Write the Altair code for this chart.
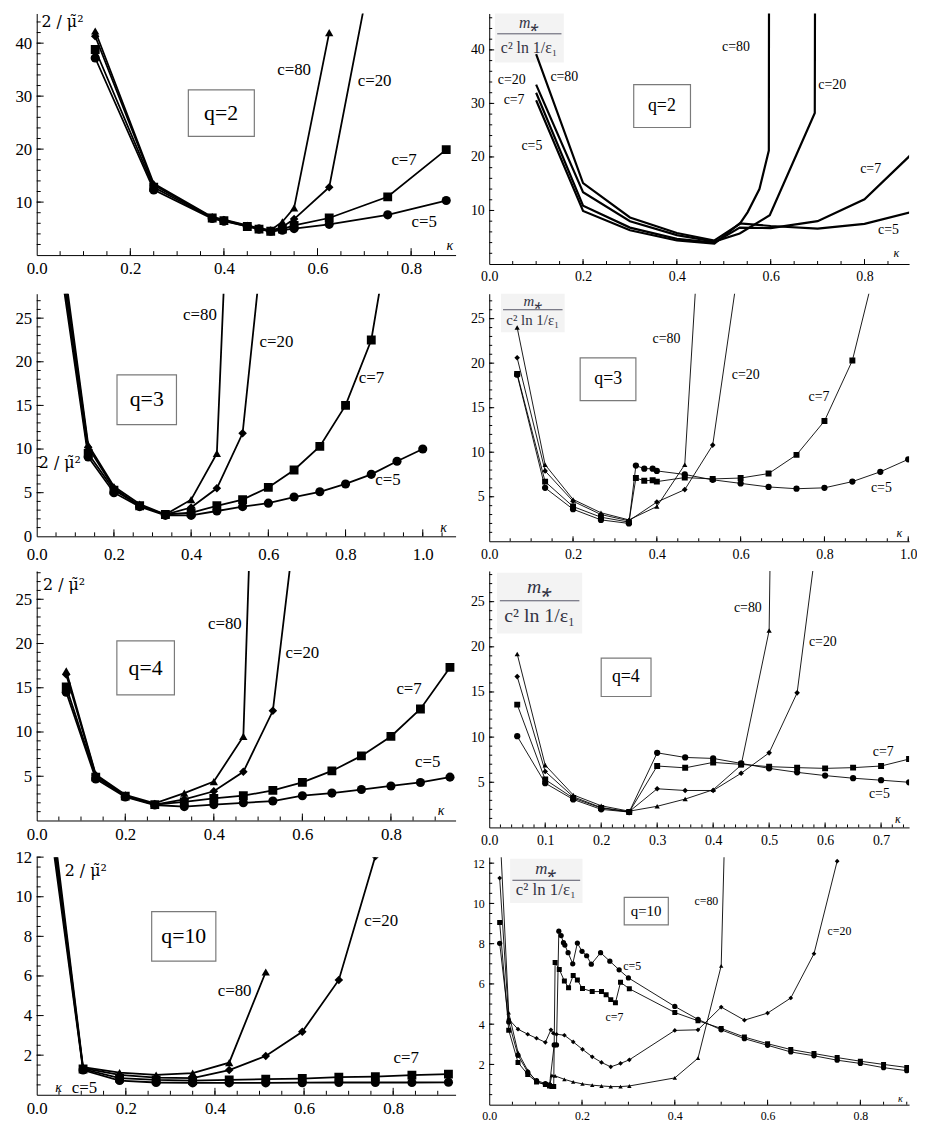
import altair as alt
import pandas as pd

FONT = "Liberation Serif"
C_NAMES = ["5", "7", "20", "80"]
SHAPES = ["circle", "square", "diamond", "triangle-up"]

# ---------------- q=2, left panel : 2/mu~^2 ----------------
q2L_kappa = [0.125, 0.25, 0.375, 0.4, 0.45, 0.475, 0.5, 0.525, 0.55, 0.625, 0.75, 0.875]
q2L_c5 = [37.2, 12.3, 6.9, 6.4, 5.4, 4.9, 4.5, 4.7, 5.0, 5.8, 7.6, 10.3]
q2L_c7 = [38.8, 12.8, 7.0, 6.5, 5.4, 4.9, 4.5, 4.9, 5.6, 7.0, 11.0, 19.9]
q2L_c20 = [41.3, 13.2, 7.1, 6.6, 5.5, 5.0, 4.6, 5.3, 6.8, 12.8, 70.0]
q2L_c80 = [42.3, 13.5, 7.2, 6.7, 5.6, 5.1, 4.7, 6.3, 8.9, 42.0]

# ---------------- q=2, right panel : m*/(c^2 ln 1/eps) ----------------
q2R_kappa_57 = [0.1, 0.2, 0.3, 0.4, 0.48, 0.534, 0.6, 0.7, 0.8, 0.9]
q2R_c5 = [30.6, 9.9, 6.3, 4.4, 3.8, 7.6, 7.1, 6.6, 7.5, 9.7]
q2R_c7 = [32.0, 10.9, 6.8, 4.7, 4.0, 6.8, 6.7, 8.0, 12.1, 20.5]
q2R_kappa_20 = [0.1, 0.2, 0.3, 0.4, 0.48, 0.534, 0.598, 0.694, 0.7]
q2R_c20 = [33.5, 13.4, 8.0, 5.4, 4.2, 5.7, 9.1, 28.2, 300.0]
q2R_kappa_80 = [0.1, 0.2, 0.3, 0.4, 0.48, 0.534, 0.551, 0.576, 0.596, 0.6]
q2R_c80 = [39.2, 15.1, 8.7, 5.8, 4.4, 7.5, 9.7, 14.0, 21.2, 300.0]

# ---------------- q=3, left panel ----------------
q3L_kappa = [1/15, 2/15, 3/15, 4/15, 5/15, 6/15, 7/15, 8/15, 9/15, 10/15, 11/15, 12/15, 13/15, 14/15, 1.0]
q3L_c5 = [29.5, 9.1, 5.0, 3.4, 2.4, 2.4, 2.9, 3.4, 3.8, 4.5, 5.1, 6.0, 7.1, 8.6, 10.0]
q3L_c7 = [30.5, 9.5, 5.3, 3.5, 2.5, 2.7, 3.5, 4.2, 5.6, 7.6, 10.3, 15.0, 22.5, 40.0]
q3L_c20 = [31.5, 10.2, 5.5, 3.5, 2.5, 3.3, 5.5, 11.8, 40.0]
q3L_c80 = [32.5, 10.5, 5.7, 3.7, 2.5, 4.2, 9.5, 80.0]

# ---------------- q=3, right panel ----------------
q3R_kappa_57 = [1/15, 2/15, 3/15, 4/15, 5/15, 0.35, 0.37, 0.39, 0.4, 7/15, 8/15, 9/15,
                10/15, 11/15, 12/15, 13/15, 14/15, 1.0]
q3R_c5 = [18.7, 6.0, 3.6, 2.4, 2.0, 8.5, 8.15, 8.15, 7.9, 7.5, 6.9, 6.5, 6.1, 5.9, 6.0, 6.7, 7.8, 9.2]
q3R_c7 = [18.8, 6.7, 3.9, 2.7, 2.15, 7.1, 6.8, 6.85, 6.7, 7.15, 7.0, 7.1, 7.6, 9.7, 13.5, 20.3, 33.0]
q3R_kappa_2080 = [1/15, 2/15, 3/15, 4/15, 5/15, 6/15, 7/15, 8/15, 9/15]
q3R_c20 = [20.6, 7.9, 4.5, 3.0, 2.3, 4.4, 5.8, 10.8, 32.5]
q3R_c80 = [24.0, 8.6, 4.7, 3.2, 2.4, 3.9, 8.6, 60.0]

# ---------------- q=4, left panel ----------------
q4L_kappa = [1/15, 2/15, 3/15, 4/15, 5/15, 6/15, 7/15, 8/15, 9/15, 10/15, 11/15, 12/15, 13/15, 14/15]
q4L_c5 = [14.5, 4.7, 2.65, 1.75, 1.57, 1.8, 2.0, 2.2, 2.8, 3.1, 3.5, 3.9, 4.3, 4.9]
q4L_c7 = [15.1, 4.9, 2.75, 1.8, 2.1, 2.5, 2.8, 3.4, 4.3, 5.6, 7.3, 9.5, 12.6, 17.3]
q4L_c20 = [16.5, 5.1, 2.8, 1.8, 2.4, 3.3, 5.5, 12.4, 40.3]
q4L_c80 = [16.9, 5.2, 2.9, 1.95, 3.1, 4.4, 9.5, 110.0]

# ---------------- q=4, right panel ----------------
q4R_kappa = [0.05, 0.1, 0.15, 0.2, 0.25, 0.3, 0.35, 0.4, 0.45, 0.5, 0.55, 0.6, 0.65, 0.7, 0.75]
q4R_c5 = [10.1, 4.9, 3.1, 2.0, 1.7, 8.26, 7.75, 7.64, 7.09, 6.54, 6.1, 5.74, 5.45, 5.23, 5.0]
q4R_c7 = [13.6, 5.3, 3.25, 2.15, 1.7, 6.8, 6.6, 7.2, 6.98, 6.73, 6.62, 6.54, 6.62, 6.8, 7.57]
q4R_c20 = [16.7, 6.2, 3.4, 2.2, 1.75, 4.28, 4.09, 4.09, 6.0, 8.26, 14.9, 39.0]
q4R_c80 = [19.2, 6.9, 3.6, 2.4, 1.8, 2.34, 3.14, 4.17, 6.9, 21.8, 250.0]

# ---------------- q=10, left panel ----------------
q10L_kappa = [0.022, 0.104, 0.186, 0.268, 0.35, 0.432, 0.514, 0.596, 0.678, 0.76, 0.842, 0.924]
q10L_c5 = [15.0, 1.25, 0.72, 0.62, 0.6, 0.6, 0.6, 0.61, 0.62, 0.62, 0.62, 0.63]
q10L_c7 = [15.5, 1.3, 0.84, 0.75, 0.72, 0.75, 0.79, 0.82, 0.89, 0.92, 0.99, 1.04]
q10L_c20 = [16.0, 1.34, 1.0, 0.87, 0.84, 1.25, 1.96, 3.18, 5.8, 12.05]
q10L_c80 = [16.5, 1.39, 1.12, 1.0, 1.09, 1.62, 6.2]

# ---------------- q=10, right panel ----------------
q10R_kappa_5 = [0.0225, 0.042, 0.062, 0.083, 0.102, 0.121, 0.13, 0.14, 0.145, 0.15, 0.155, 0.16,
                0.163, 0.17, 0.18, 0.19, 0.2, 0.21, 0.22, 0.24, 0.26, 0.28, 0.3, 0.4, 0.45, 0.5,
                0.55, 0.6, 0.65, 0.7, 0.75, 0.8, 0.85, 0.9]
q10R_c5 = [8.02, 4.11, 2.45, 1.62, 1.2, 1.05, 0.98, 2.97, 2.97, 8.62, 8.4, 8.05, 7.93, 7.55, 7.0,
           8.03, 7.62, 7.4, 6.98, 7.55, 7.13, 6.7, 6.3, 4.88, 4.24, 3.72, 3.28, 2.95, 2.62, 2.43,
           2.21, 2.05, 1.84, 1.69]
q10R_kappa_7 = [0.0225, 0.042, 0.062, 0.083, 0.102, 0.121, 0.13, 0.135, 0.139, 0.142, 0.151,
                0.162, 0.171, 0.181, 0.19, 0.201, 0.222, 0.242, 0.252, 0.262, 0.272, 0.283, 0.302,
                0.4, 0.45, 0.5, 0.55, 0.6, 0.65, 0.7, 0.75, 0.8, 0.85, 0.9]
q10R_c7 = [9.05, 3.7, 2.1, 1.5, 1.13, 1.0, 0.93, 0.9, 0.9, 7.07, 6.72, 6.15, 5.81, 6.42, 6.19,
           5.77, 5.62, 5.62, 5.46, 5.22, 5.06, 6.08, 5.76, 4.58, 4.17, 3.79, 3.36, 3.03, 2.74,
           2.54, 2.34, 2.16, 2.0, 1.85]
q10R_kappa_20 = [0.0225, 0.042, 0.062, 0.083, 0.102, 0.121, 0.133, 0.138, 0.145, 0.162, 0.181,
                 0.201, 0.222, 0.242, 0.262, 0.283, 0.302, 0.4, 0.45, 0.5, 0.55, 0.6, 0.65, 0.7, 0.75]
q10R_c20 = [11.26, 4.25, 3.75, 3.5, 3.3, 3.1, 3.72, 3.55, 3.5, 3.45, 3.12, 2.75, 2.38, 2.1, 1.88,
            2.05, 2.23, 3.69, 3.72, 4.85, 4.2, 4.55, 5.3, 7.5, 12.1]
q10R_kappa_80 = [0.0225, 0.042, 0.062, 0.083, 0.102, 0.121, 0.13, 0.135, 0.142, 0.162, 0.181,
                 0.201, 0.222, 0.242, 0.262, 0.283, 0.302, 0.4, 0.45, 0.5, 0.55]
q10R_c80 = [13.9, 4.57, 2.6, 1.7, 1.13, 1.0, 0.93, 1.46, 1.43, 1.26, 1.13, 1.03, 0.97, 0.93, 0.9,
            0.9, 0.93, 1.33, 2.31, 6.9, 51.0]

Y_LEFT_LABEL = "2 / \u03bc\u0303\u00b2"
FRAC_NUM = "m\u204e"
FRAC_DEN = "c\u00b2 ln 1/\u03b5\u2081"


def make_df(kappas, values):
    rows = []
    for c, ks, vs in zip(C_NAMES, kappas, values):
        for k, v in zip(ks, vs):
            rows.append({"k": k, "v": v, "c": c})
    return pd.DataFrame(rows)


def steps(lo, hi, step):
    out, i = [], 0
    while lo + i * step <= hi + 1e-9:
        out.append(round(lo + i * step, 6))
        i += 1
    return out


def panel(df, st):
    xs = alt.Scale(domain=[0, st["xmax"]], nice=False, zero=False)
    ys = alt.Scale(domain=[0, st["ymax"]], nice=False, zero=False)
    W, H = st["w"], st["h"]
    xaxis = alt.Axis(values=st["xlab"], format=".1f", ticks=False, grid=False, title=None,
                     domain=True, domainColor="black", domainWidth=1, labelFont=FONT,
                     labelFontSize=st["fs"], labelColor="black", labelPadding=st.get("xpad", 6),
                     labelFlush=False, labelOverlap=False)
    yaxis = alt.Axis(values=st["ylab"], format="d", ticks=False, grid=False, title=None,
                     domain=True, domainColor="black", domainWidth=1, labelFont=FONT,
                     labelFontSize=st["fs"], labelColor="black", labelPadding=st.get("ypad", 5),
                     labelOverlap=False)
    X = lambda f: alt.X(f, scale=xs, axis=xaxis)
    Y = lambda f: alt.Y(f, scale=ys, axis=yaxis)
    layers = []

    # box with q label
    b = st["box"]
    bdf = pd.DataFrame({"k": [b[0]], "k2": [b[1]], "v": [b[2]], "v2": [b[3]]})
    layers.append(alt.Chart(bdf).mark_rect(fill="white", stroke="#7a7a7a", strokeWidth=1.2).encode(
        x=X("k:Q"), x2="k2:Q", y=Y("v:Q"), y2="v2:Q"))

    # fraction background (light shading as in the reference)
    if st.get("frac"):
        fk, fn, fd, fb, fk1, fk2, fsz = st["frac"]
        gdf = pd.DataFrame({"k": [fk1 - 0.005], "k2": [fk2 + 0.005],
                            "v": [fd - (fn - fd) * 0.6], "v2": [fn + (fn - fd) * 0.5]})
        layers.append(alt.Chart(gdf).mark_rect(fill="#f3f3f3", clip=True).encode(
            x=X("k:Q"), x2="k2:Q", y=Y("v:Q"), y2="v2:Q"))

    # lines
    layers.append(alt.Chart(df).mark_line(color="black", strokeWidth=st["lw"], clip=True).encode(
        x=X("k:Q"), y=Y("v:Q"), detail="c:N"))
    # markers
    if st.get("sizes"):
        layers.append(alt.Chart(df).mark_point(filled=True, color="black", opacity=1,
                                               clip=True, strokeWidth=0).encode(
            x=X("k:Q"), y=Y("v:Q"),
            shape=alt.Shape("c:N", scale=alt.Scale(domain=C_NAMES, range=SHAPES), legend=None),
            size=alt.Size("c:N", scale=alt.Scale(domain=C_NAMES, range=st["sizes"]), legend=None)))

    # inward ticks
    tM, tm = st["tick"]
    for vals, L in ((st["xlab"], tM), (st["xminor"], tm)):
        tdf = pd.DataFrame({"t": [v for v in vals if 0 < v <= st["xmax"]]})
        layers.append(alt.Chart(tdf).mark_rule(color="black", strokeWidth=1).encode(
            x=X("t:Q"), y=alt.value(H), y2=alt.value(H - L)))
    for vals, L in ((st["ylab"], tM), (st["yminor"], tm)):
        tdf = pd.DataFrame({"t": [v for v in vals if 0 < v <= st["ymax"]]})
        layers.append(alt.Chart(tdf).mark_rule(color="black", strokeWidth=1).encode(
            y=Y("t:Q"), x=alt.value(0), x2=alt.value(L)))

    # texts
    for (k, v, s, size, italic) in st["texts"]:
        tdf = pd.DataFrame({"k": [k], "v": [v], "s": [s]})
        fnt = "DejaVu Serif" if s == Y_LEFT_LABEL else FONT
        fsize = size - 2 if s == Y_LEFT_LABEL else size
        layers.append(alt.Chart(tdf).mark_text(
            font=fnt, fontSize=fsize, fontStyle="italic" if italic else "normal",
            color="black", align="center", baseline="middle").encode(
            x=X("k:Q"), y=Y("v:Q"), text="s:N"))

    # fraction label
    if st.get("frac"):
        fk, fn, fd, fb, fk1, fk2, fsz = st["frac"]
        ndf = pd.DataFrame({"k": [fk], "v": [fn], "s": [FRAC_NUM]})
        ddf = pd.DataFrame({"k": [fk], "v": [fd], "s": [FRAC_DEN]})
        rdf = pd.DataFrame({"k": [fk1], "k2": [fk2], "v": [fb]})
        layers.append(alt.Chart(ndf).mark_text(font=FONT, fontSize=fsz, fontStyle="italic",
                                               color="#333344", baseline="middle").encode(
            x=X("k:Q"), y=Y("v:Q"), text="s:N"))
        layers.append(alt.Chart(ddf).mark_text(font=FONT, fontSize=fsz, color="#333344",
                                               baseline="middle").encode(
            x=X("k:Q"), y=Y("v:Q"), text="s:N"))
        layers.append(alt.Chart(rdf).mark_rule(color="#555566", strokeWidth=1).encode(
            x=X("k:Q"), x2="k2:Q", y=Y("v:Q")))

    return alt.layer(*layers).properties(width=W, height=H)


L_SIZES = [85, 70, 120, 100]
R_SIZES = [40, 28, 24, 24]
R4_SIZES = [28, 20, 16, 16]

p1 = panel(make_df([q2L_kappa] * 4, [q2L_c5, q2L_c7, q2L_c20, q2L_c80]), dict(
    w=423, h=244, xmax=0.895, ymax=45.6, xlab=[0, 0.2, 0.4, 0.6, 0.8], ylab=[10, 20, 30, 40],
    xminor=steps(0, 0.9, 0.05), yminor=steps(0, 46, 2), fs=17, lw=1.8, sizes=L_SIZES,
    tick=(7, 4), box=(0.324, 0.465, 22.4, 31.2),
    texts=[(0.394, 26.8, "q=2", 22, False), (0.055, 44.0, Y_LEFT_LABEL, 18, False),
           (0.55, 35.0, "c=80", 17, False), (0.722, 32.9, "c=20", 17, False),
           (0.785, 17.9, "c=7", 17, False), (0.828, 6.2, "c=5", 17, False),
           (0.883, 1.8, "\u03ba", 14, True)]))

p2 = panel(make_df([q2R_kappa_57, q2R_kappa_57, q2R_kappa_20, q2R_kappa_80],
                   [q2R_c5, q2R_c7, q2R_c20, q2R_c80]), dict(
    w=424, h=253, xmax=0.895, ymax=46.8, xlab=[0, 0.2, 0.4, 0.6, 0.8], ylab=[10, 20, 30, 40],
    xminor=steps(0, 0.9, 0.05), yminor=steps(0, 46, 2), fs=14, lw=2.2, sizes=None,
    tick=(5, 3), box=(0.308, 0.429, 25.5, 33.5),
    texts=[(0.368, 29.5, "q=2", 18, False),
           (0.048, 34.4, "c=20", 14, False), (0.16, 35.0, "c=80", 14, False),
           (0.053, 30.7, "c=7", 14, False), (0.091, 22.0, "c=5", 14, False),
           (0.526, 40.5, "c=80", 14, False), (0.731, 33.5, "c=20", 14, False),
           (0.813, 17.7, "c=7", 14, False), (0.851, 6.3, "c=5", 14, False),
           (0.868, 2.0, "\u03ba", 12, True)],
    frac=(0.085, 45.0, 40.4, 43.0, 0.017, 0.154, 16)))

p3 = panel(make_df([q3L_kappa] * 4, [q3L_c5, q3L_c7, q3L_c20, q3L_c80]), dict(
    w=423, h=245, xmax=1.085, ymax=27.8, xlab=[0, 0.2, 0.4, 0.6, 0.8, 1.0],
    ylab=[0, 5, 10, 15, 20, 25], xminor=steps(0, 1.1, 0.05), yminor=steps(0, 28, 1),
    fs=17, lw=1.8, sizes=L_SIZES, tick=(7, 4), box=(0.208, 0.362, 12.8, 18.5), xpad=10,
    texts=[(0.285, 15.7, "q=3", 22, False), (0.06, 8.4, Y_LEFT_LABEL, 18, False),
           (0.423, 25.3, "c=80", 17, False), (0.621, 22.3, "c=20", 17, False),
           (0.867, 18.1, "c=7", 17, False), (0.91, 6.4, "c=5", 17, False),
           (1.054, 1.0, "\u03ba", 14, True)]))

p4 = panel(make_df([q3R_kappa_57, q3R_kappa_57, q3R_kappa_2080, q3R_kappa_2080],
                   [q3R_c5, q3R_c7, q3R_c20, q3R_c80]), dict(
    w=424, h=250, xmax=1.002, ymax=27.8, xlab=[0, 0.2, 0.4, 0.6, 0.8, 1.0],
    ylab=[5, 10, 15, 20, 25], xminor=steps(0, 1.0, 0.05), yminor=steps(0, 28, 1),
    fs=14, lw=0.9, sizes=R_SIZES, tick=(5, 3), box=(0.217, 0.35, 15.8, 20.6),
    texts=[(0.284, 18.2, "q=3", 18, False),
           (0.423, 22.7, "c=80", 14, False), (0.612, 18.7, "c=20", 14, False),
           (0.787, 16.2, "c=7", 14, False), (0.936, 6.0, "c=5", 14, False),
           (0.979, 0.9, "\u03ba", 12, True)],
    frac=(0.104, 27.0, 24.8, 26.0, 0.033, 0.175, 15)))

p5 = panel(make_df([q4L_kappa] * 4, [q4L_c5, q4L_c7, q4L_c20, q4L_c80]), dict(
    w=423, h=252, xmax=0.946, ymax=28.2, xlab=[0, 0.2, 0.4, 0.6, 0.8],
    ylab=[5, 10, 15, 20, 25], xminor=steps(0, 0.95, 0.05), yminor=steps(0, 28, 1),
    fs=17, lw=1.8, sizes=L_SIZES, tick=(7, 4), box=(0.181, 0.311, 14.2, 20.3),
    texts=[(0.246, 17.2, "q=4", 22, False), (0.062, 26.6, Y_LEFT_LABEL, 18, False),
           (0.425, 22.2, "c=80", 17, False), (0.6, 18.9, "c=20", 17, False),
           (0.841, 14.9, "c=7", 17, False), (0.883, 6.6, "c=5", 17, False),
           (0.913, 1.1, "\u03ba", 14, True)]))

p6 = panel(make_df([q4R_kappa] * 4, [q4R_c5, q4R_c7, q4R_c20, q4R_c80]), dict(
    w=424, h=259, xmax=0.75, ymax=28.4, xlab=[0, 0.1, 0.2, 0.3, 0.4, 0.5, 0.6, 0.7],
    ylab=[5, 10, 15, 20, 25], xminor=steps(0, 0.75, 0.02), yminor=steps(0, 28, 1),
    fs=14, lw=0.9, sizes=R_SIZES, tick=(5, 3), box=(0.2, 0.289, 14.5, 18.75),
    texts=[(0.244, 16.6, "q=4", 18, False),
           (0.462, 24.3, "c=80", 14, False), (0.596, 20.5, "c=20", 14, False),
           (0.704, 8.4, "c=7", 14, False), (0.697, 3.7, "c=5", 14, False),
           (0.73, 0.9, "\u03ba", 12, True)],
    frac=(0.09, 26.6, 23.4, 25.1, 0.019, 0.161, 20)))

p7 = panel(make_df([q10L_kappa] * 4, [q10L_c5, q10L_c7, q10L_c20, q10L_c80]), dict(
    w=423, h=240, xmax=0.94, ymax=12.0, xlab=[0, 0.2, 0.4, 0.6, 0.8],
    ylab=[2, 4, 6, 8, 10, 12], xminor=steps(0, 0.95, 0.05), yminor=steps(0, 12, 0.5),
    fs=17, lw=1.8, sizes=L_SIZES, tick=(7, 4), box=(0.258, 0.402, 6.75, 9.25),
    texts=[(0.33, 8.0, "q=10", 22, False), (0.11, 11.3, Y_LEFT_LABEL, 18, False),
           (0.444, 5.25, "c=80", 17, False), (0.773, 8.75, "c=20", 17, False),
           (0.829, 1.85, "c=7", 17, False), (0.107, 0.35, "c=5", 17, False),
           (0.049, 0.35, "\u03ba", 14, True)]))

p8 = panel(make_df([q10R_kappa_5, q10R_kappa_7, q10R_kappa_20, q10R_kappa_80],
                   [q10R_c5, q10R_c7, q10R_c20, q10R_c80]), dict(
    w=424, h=250, xmax=0.905, ymax=12.3, xlab=[0, 0.2, 0.4, 0.6, 0.8],
    ylab=[2, 4, 6, 8, 10, 12], xminor=steps(0, 0.9, 0.05), yminor=steps(0, 12, 0.5),
    fs=12, lw=0.9, sizes=R4_SIZES, tick=(5, 3), box=(0.291, 0.386, 8.93, 10.3),
    texts=[(0.338, 9.6, "q=10", 15, False),
           (0.468, 10.1, "c=80", 12, False), (0.755, 8.65, "c=20", 12, False),
           (0.308, 6.9, "c=5", 12, False), (0.27, 4.35, "c=7", 12, False),
           (0.886, 0.3, "\u03ba", 10, True)],
    frac=(0.122, 11.7, 10.65, 11.15, 0.05, 0.196, 17)))

chart = alt.concat(p1, p2, p3, p4, p5, p6, p7, p8, columns=2,
                   spacing={"row": 30, "column": 34}, bounds="flush").resolve_scale(
    x="independent", y="independent", shape="independent", size="independent"
).properties(padding={"left": 7, "top": 0, "right": 0, "bottom": 0},
             background="white").configure_view(stroke=None)

chart.save("out.html", embed_options={"renderer": "svg", "actions": False})
